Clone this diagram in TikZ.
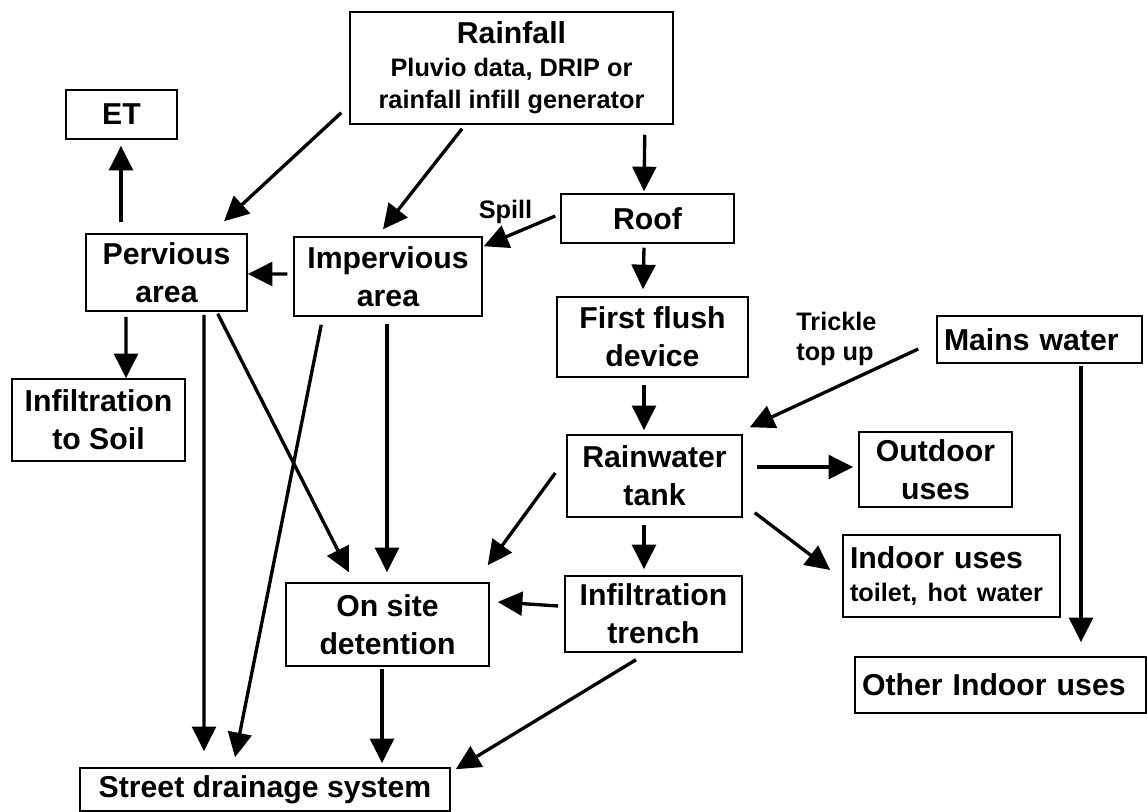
\documentclass[tikz,border=0pt]{standalone}
\usepackage{fontspec}
\setmainfont{Liberation Sans}
\usetikzlibrary{arrows.meta,calc}
\newcommand{\mainfnt}{\fontsize{17.2}{21.6}\selectfont\bfseries}
\newcommand{\smallfnt}{\fontsize{14.4}{18}\selectfont\bfseries}
\begin{document}
\begin{tikzpicture}[x=0.02cm, y=-0.02cm,
  box/.style={draw, line width=0.85pt, inner sep=0pt, align=center, font=\mainfnt},
  sz/.style n args={2}{minimum width=#1*0.02cm, minimum height=#2*0.02cm},
  lbox/.style={box, align=left, inner xsep=0.14cm, text width=(#1-14)*0.02cm},
  flow/.style={line width=1.9pt, -{Triangle[length=14pt,width=13.5pt]}},
  note/.style={font=\smallfnt, align=left, inner sep=0pt}]
\useasboundingbox (0,0) rectangle (1147,812);
% sources
\node[box, sz={323}{112}] (rain) at (511.5,68) {Rainfall\\[-3pt] \smallfnt Pluvio data, DRIP or\\[-3pt] \smallfnt rainfall infill generator};
\node[box, sz={111}{49}] (et) at (121.5,114.5) {ET};
\node[box, sz={161}{77}] (perv) at (166.5,272.5) {Pervious\\area};
\node[box, sz={188}{79}] (imperv) at (388,276.5) {Impervious\\area};
\node[box, sz={173}{49}] (roof) at (647.5,218.5) {Roof};
\node[box, sz={191}{80}] (flush) at (652.5,337) {First flush\\device};
\node[lbox=205, sz={205}{47}] (mains) at (1039.5,339.5) {Mains water};
\node[box, sz={173}{82}] (soil) at (98.5,420) {Infiltration\\to Soil};
% tank and uses
\node[box, sz={175}{82}] (tank) at (654.5,476) {Rainwater\\tank};
\node[box, sz={153}{75}] (outdoor) at (935.5,469.5) {Outdoor\\uses};
\node[lbox=217, sz={217}{82}] (indoor) at (951.5,576) {Indoor uses\\[-3pt] \smallfnt toilet, hot water};
\node[lbox=291, sz={291}{56}] (other) at (1000.5,685) {Other Indoor uses};
\node[box, sz={177}{76}] (trench) at (653.5,614) {Infiltration\\trench};
% detention and drainage
\node[box, sz={203}{83}] (osd) at (387.5,624.5) {On site\\detention};
\node[box, sz={370}{43}] (street) at (265,789.5) {Street drainage system};
% labels
\node[note, anchor=base] (spill) at (505.5,218) {Spill};
\node[note, anchor=west] (trickle) at (796,339) {Trickle\\[-1pt]top up};
% flows
\draw[flow] ($(rain.south west)+(-8,-12)$) -- ($(perv.north)+(57.5,-12)$);
\draw[flow] ($(rain.south)+(-49.5,4)$) -- ($(imperv.north)+(-5,-7)$);
\draw[flow] ($(rain.south east)+(-29,10)$) -- ($(roof.north)+(-3.5,-2)$);
\draw[flow] ($(roof.west)+(-5,-2.5)$) -- ($(imperv.north east)+(1,10)$);
\draw[flow] ($(imperv.west)+(-6,-2.5)$) -- ($(perv.east)+(0,1.5)$);
\draw[flow] ($(perv.north)+(-45.5,-11)$) -- ($(et.south)+(-0.5,6)$);
\draw[flow] ($(perv.south)+(-40.5,5)$) -- ($(soil.north)+(27.5,0)$);
\draw[flow] ($(perv.south)+(37.5,3)$) -- ($(street.north)+(-61,-16)$);
\draw[flow] ($(perv.south east)+(-30,2)$) -- ($(osd.north)+(-38.5,-10)$);
\draw[flow] ($(imperv.south west)+(28,8)$) -- ($(street.north)+(-30,-10)$);
\draw[flow] ($(imperv.south)+(-1,7)$) -- ($(osd.north)+(-0.5,-10)$);
\draw[flow] ($(roof.south)+(-3.5,4)$) -- ($(flush.north)+(-9.5,-7)$);
\draw[flow] ($(flush.south)+(-8.5,7)$) -- ($(tank.north)+(-10.5,-4)$);
\draw[flow] ($(mains.west)+(-18,9.5)$) -- ($(tank.north east)+(7,-7)$);
\draw[flow] ($(mains.south)+(41.5,2)$) -- ($(other.north)+(80.5,-14)$);
\draw[flow] ($(tank.east)+(14,-9)$) -- ($(outdoor.west)+(-5,-2.5)$);
\draw[flow] ($(tank.south east)+(12,-5)$) -- ($(indoor.west)+(-12,-6)$);
\draw[flow] ($(tank.west)+(-11,-3)$) -- ($(osd.north east)+(-2,-17)$);
\draw[flow] ($(tank.south)+(-10.5,7)$) -- ($(trench.north)+(-9.5,-6)$);
\draw[flow] ($(trench.west)+(-6,-8)$) -- ($(osd.east)+(8,-22.5)$);
\draw[flow] ($(osd.south)+(-5.5,2)$) -- ($(street.north)+(117,-4)$);
\draw[flow] ($(trench.south)+(-17.5,7)$) -- ($(street.north east)+(5,2)$);
\end{tikzpicture}
\end{document}
